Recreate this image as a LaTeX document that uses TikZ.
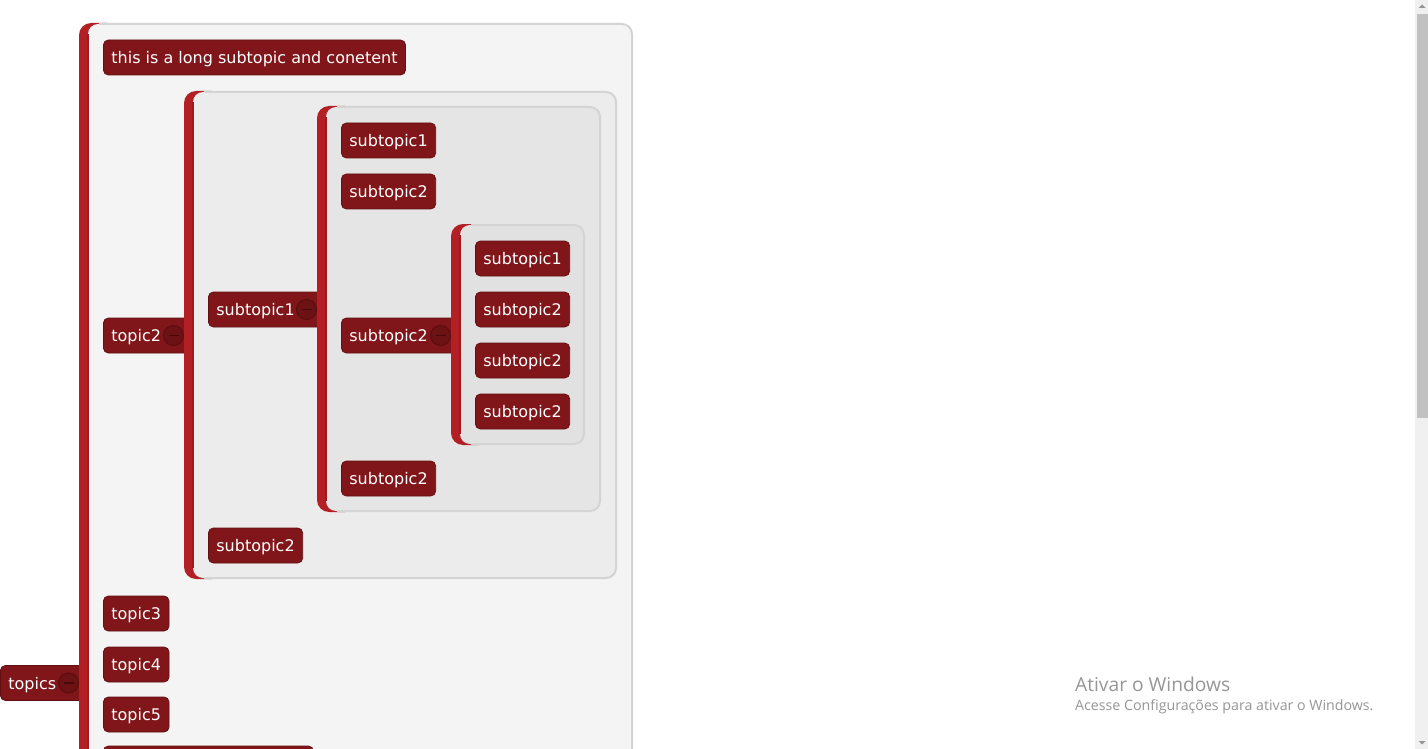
\documentclass[tikz,border=0pt]{standalone}
\usepackage{fontspec}
\setmainfont{DejaVu Sans}
\newfontfamily\winfont{Open Sans}
\usetikzlibrary{calc}
\definecolor{barred}{RGB}{178,31,36}
\definecolor{bardark}{RGB}{158,26,30}
\definecolor{nodefill}{RGB}{128,22,25}
\definecolor{nodeedge}{RGB}{100,15,18}
\definecolor{circfill}{RGB}{108,17,20}
\definecolor{circedge}{RGB}{92,13,15}
\definecolor{minuscol}{RGB}{70,9,11}
\definecolor{lvlA}{RGB}{244,244,244}
\definecolor{lvlB}{RGB}{236,236,236}
\definecolor{lvlC}{RGB}{229,229,229}
\definecolor{lvlD}{RGB}{225,225,225}
\definecolor{boxedge}{RGB}{212,212,212}
\definecolor{wintext}{RGB}{150,150,150}
\definecolor{sbtrack}{RGB}{240,240,240}
\definecolor{sbthumb}{RGB}{193,193,193}
\definecolor{sbarrow}{RGB}{150,150,150}
\newcommand\mmcontainer[5]{%
  \fill[barred, rounded corners=12pt] (#1,#2) rectangle ({#1+40},#4);
  \fill[#5, rounded corners=10pt] ({#1+9},{#2+1}) rectangle ({#3-1},{#4-1});
  \draw[boxedge, line width=2pt, rounded corners=10pt] ({#1+20},{#2+1}) -- ({#3-1},{#2+1}) -- ({#3-1},{#4-1}) -- ({#1+20},{#4-1});
  \draw[bardark, line width=1.5pt] ({#1+9},{#2+11}) -- ({#1+9},{#4-11});
}
\begin{document}
\begin{tikzpicture}[x=1pt,y=-1pt,
  tbox/.style={rounded corners=5pt, fill=nodefill, draw=nodeedge, line width=0.8pt,
    text=white, font=\fontsize{16}{19}\selectfont, minimum height=35pt,
    text height=16pt, text depth=3.8pt,
    inner xsep=8pt, inner ysep=0pt, anchor=west},
  tboxp/.style={tbox, align=left},
  collapse/.style={circle, fill=circfill, draw=circedge, line width=1pt, minimum size=20pt, inner sep=0pt},
  minusline/.style={draw=minuscol, line width=1.6pt},
  wintxt/.style={text=wintext, anchor=west, inner sep=0pt}
]
\useasboundingbox (0,0) rectangle (1428,749);
\fill[white] (0,0) rectangle (1428,749);
\begin{scope}
\clip (0,0) rectangle (1414,749);
% level 0 parent
\node[tboxp, text width=77pt] (topics) at (0,683) {topics};
% level 1 container
\mmcontainer{79}{23}{633}{790}{lvlA}
\node[collapse] (topicsC) at (68.5,683) {};
\draw[minusline] ($(topicsC.center)+(-5pt,0pt)$) -- ($(topicsC.center)+(5pt,0pt)$);
% level 1 children
\node[tbox, minimum width=302pt] (long) at (103,57.5) {this is a long subtopic and conetent};
\node[tboxp, text width=79pt] (topic2) at (103,335.5) {topic2};
\node[tbox, minimum width=65pt] (topic3) at (103,613.5) {topic3};
\node[tbox, minimum width=65pt] (topic4) at (103,664.5) {topic4};
\node[tbox, minimum width=65pt] (topic5) at (103,714.5) {topic5};
\node[tbox, minimum width=210pt] (topic6) at (103,763.5) {};
% level 2 container
\mmcontainer{184}{91}{617}{579}{lvlB}
\node[collapse] (topic2C) at (173.5,335.5) {};
\draw[minusline] ($(topic2C.center)+(-5pt,0pt)$) -- ($(topic2C.center)+(5pt,0pt)$);
\node[tboxp, text width=107pt] (bA) at (208,309.5) {subtopic1};
\node[tbox, minimum width=93pt] (bB) at (208,545.5) {subtopic2};
% level 3 container
\mmcontainer{317}{106}{601}{512}{lvlC}
\node[collapse] (bAC) at (306.5,309.5) {};
\draw[minusline] ($(bAC.center)+(-5pt,0pt)$) -- ($(bAC.center)+(5pt,0pt)$);
\node[tbox, minimum width=94pt] (cA) at (341,140.5) {subtopic1};
\node[tbox, minimum width=94pt] (cB) at (341,191.5) {subtopic2};
\node[tboxp, text width=108pt] (cC) at (341,335.5) {subtopic2};
\node[tbox, minimum width=94pt] (cD) at (341,478.5) {subtopic2};
% level 4 container
\mmcontainer{451}{224}{585}{445}{lvlD}
\node[collapse] (cCC) at (440.5,335.5) {};
\draw[minusline] ($(cCC.center)+(-5pt,0pt)$) -- ($(cCC.center)+(5pt,0pt)$);
\node[tbox, minimum width=93pt] (dA) at (475,258.5) {subtopic1};
\node[tbox, minimum width=93pt] (dB) at (475,309.5) {subtopic2};
\node[tbox, minimum width=93pt] (dC) at (475,360.5) {subtopic2};
\node[tbox, minimum width=93pt] (dD) at (475,411.5) {subtopic2};
\end{scope}
% watermark
\node[wintxt, font=\winfont\fontsize{19.2}{22}\selectfont] (win1) at (1075,684) {Ativar o Windows};
\node[wintxt, font=\winfont\fontsize{14.2}{17}\selectfont] (win2) at (1075,706.5) {Acesse Configurações para ativar o Windows.};
% scrollbar
\fill[sbtrack] (1415,0) rectangle (1428,749);
\fill[sbthumb] (1417,14) rectangle (1428,418);
\fill[sbarrow] (1418.5,8) -- (1425.5,8) -- (1422,4.5) -- cycle;
\fill[sbarrow] (1418.5,741) -- (1425.5,741) -- (1422,744.5) -- cycle;
\end{tikzpicture}
\end{document}
